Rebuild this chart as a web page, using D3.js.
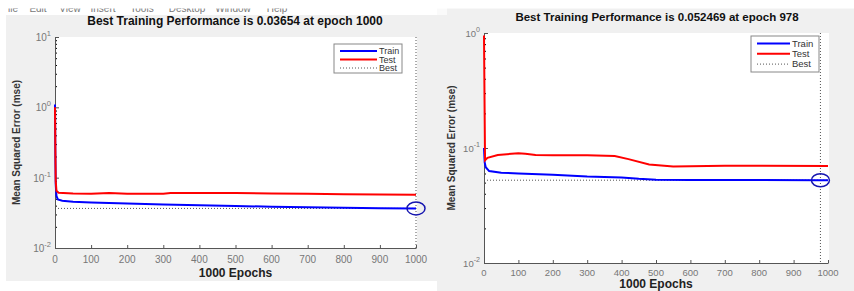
<!DOCTYPE html>
<html>
<head>
<meta charset="utf-8">
<script src="https://cdn.jsdelivr.net/npm/d3@7"></script>
<style>
  body { margin: 0; background: #ffffff; }
  svg { display: block; font-family: "Liberation Sans", Arial, sans-serif; }
</style>
</head>
<body>
<svg id="chart" width="854" height="291"></svg>
<script>
/* two MATLAB nntool performance plots side by side */

// ---- data ----
var epochTicks = [0, 100, 200, 300, 400, 500, 600, 700, 800, 900, 1000];
var menuItems = ["ile", "Edit", "View", "Insert", "Tools", "Desktop", "Window", "Help"];

// left plot
var leftTitle = "Best Training Performance is 0.03654 at epoch 1000";
var leftDecades = [-2, -1, 0, 1];
var leftTrainEpoch = [0, 1, 2, 4, 8, 20, 50, 100, 200, 300, 400, 500, 600, 700, 800, 900, 1000];
var leftTrainMse   = [1.1, 0.2, 0.08, 0.055, 0.049, 0.047, 0.0455, 0.0445, 0.043, 0.0415, 0.0405, 0.0395, 0.0387, 0.038, 0.0373, 0.0368, 0.03654];
var leftTestEpoch  = [0, 1, 2, 4, 10, 50, 100, 150, 200, 300, 320, 500, 600, 700, 800, 900, 1000];
var leftTestMse    = [1.0, 0.25, 0.09, 0.065, 0.061, 0.0595, 0.059, 0.0605, 0.059, 0.059, 0.0605, 0.0605, 0.0595, 0.059, 0.058, 0.0575, 0.0572];
var leftBestEpoch = 1000;
var leftBestMse = 0.03654;

// right plot
var rightTitle = "Best Training Performance is 0.052469 at epoch 978";
var rightDecades = [-2, -1, 0];
var rightTrainEpoch = [0, 2, 5, 15, 50, 100, 200, 300, 400, 450, 500, 600, 800, 978, 1000];
var rightTrainMse   = [0.1, 0.075, 0.068, 0.063, 0.061, 0.06, 0.0585, 0.0565, 0.0555, 0.054, 0.053, 0.0528, 0.0526, 0.052469, 0.05245];
var rightTestEpoch  = [0, 3, 10, 40, 100, 120, 150, 200, 300, 380, 420, 480, 550, 600, 700, 1000];
var rightTestMse    = [0.95, 0.078, 0.082, 0.087, 0.09, 0.089, 0.087, 0.0865, 0.0865, 0.085, 0.08, 0.072, 0.069, 0.0695, 0.07, 0.0698];
var rightBestEpoch = 978;
var rightBestMse = 0.052469;

var legendNames = ["Train", "Test", "Best"];

// ---- drawing ----
var svg = d3.select("#chart");
var figBg = "#f0f0f0";

// window backgrounds
svg.append("rect").attr("x", 6).attr("y", 15).attr("width", 431).attr("height", 266).attr("fill", figBg);
svg.append("rect").attr("x", 437).attr("y", 7).attr("width", 417).attr("height", 284).attr("fill", figBg);
svg.append("rect").attr("x", 437).attr("y", 7).attr("width", 10).attr("height", 8).attr("fill", "#fafafa");

// cut-off menu bar of the left window
var menuX = [13, 38, 70, 103, 142, 187, 233, 277];
svg.selectAll("text.menu")
  .data(menuItems)
  .enter()
  .append("text")
  .attr("class", "menu")
  .attr("x", function(d, i) { return menuX[i]; })
  .attr("y", 12)
  .attr("text-anchor", "middle")
  .attr("font-size", 10)
  .attr("fill", "#777")
  .text(function(d) { return d; });
svg.append("rect").attr("x", 0).attr("y", 0).attr("width", 854).attr("height", 8.5).attr("fill", "#ffffff");

function drawPanel(p) {
  var x = d3.scaleLinear().domain([0, 1000]).range([p.x0, p.x1]);
  var y = d3.scaleLog()
            .domain([Math.pow(10, d3.min(p.decades)), Math.pow(10, d3.max(p.decades))])
            .range([p.y1, p.y0]);

  var g = svg.append("g");

  // white axes area
  g.append("rect")
    .attr("x", p.x0).attr("y", p.y0)
    .attr("width", p.x1 - p.x0 + 1).attr("height", p.y1 - p.y0)
    .attr("fill", "#ffffff");

  // minor log ticks
  var minors = [];
  p.decades.slice(0, -1).forEach(function(e) {
    for (var k = 2; k < 10; k++) minors.push(k * Math.pow(10, e));
  });
  var majors = p.decades.map(function(e) { return Math.pow(10, e); });

  g.append("g")
    .attr("transform", "translate(" + p.x0 + ",0)")
    .call(d3.axisLeft(y).tickValues(minors).tickSize(-2).tickFormat(""))
    .call(function(a) { a.select(".domain").remove(); });

  var yAxis = g.append("g")
    .attr("transform", "translate(" + p.x0 + ",0)")
    .call(d3.axisLeft(y).tickValues(majors).tickSize(-4).tickSizeOuter(0).tickFormat(""));

  var xAxis = g.append("g")
    .attr("transform", "translate(0," + p.y1 + ")")
    .call(d3.axisBottom(x).tickValues(epochTicks).tickSize(-3).tickSizeOuter(0).tickFormat(""));

  [yAxis, xAxis].forEach(function(a) {
    a.selectAll("line").attr("stroke", "#555");
    a.select(".domain").attr("stroke", "#555");
  });

  // y tick labels 10^n
  var yl = g.selectAll("text.ylab")
    .data(p.decades)
    .enter()
    .append("text")
    .attr("class", "ylab")
    .attr("x", p.x0 - 4)
    .attr("y", function(d) { return y(Math.pow(10, d)) + 4; })
    .attr("text-anchor", "end")
    .attr("font-size", p.tickFont)
    .attr("fill", "#777");
  yl.append("tspan").text("10");
  yl.append("tspan")
    .attr("dy", -5)
    .attr("font-size", p.tickFont * 0.75)
    .text(function(d) { return d; });

  // x tick labels
  g.selectAll("text.xlab")
    .data(epochTicks)
    .enter()
    .append("text")
    .attr("class", "xlab")
    .attr("x", function(d) { return x(d); })
    .attr("y", p.y1 + p.tickDy)
    .attr("text-anchor", "middle")
    .attr("font-size", p.tickFont)
    .attr("fill", "#777")
    .text(function(d) { return d; });

  // best lines
  g.append("line")
    .attr("x1", p.x0).attr("x2", p.x1)
    .attr("y1", y(p.bestMse)).attr("y2", y(p.bestMse))
    .attr("stroke", "#555").attr("stroke-width", 1).attr("stroke-dasharray", "1,2");
  g.append("line")
    .attr("x1", x(p.bestEpoch)).attr("x2", x(p.bestEpoch))
    .attr("y1", p.y0).attr("y2", p.y1)
    .attr("stroke", "#555").attr("stroke-width", 1).attr("stroke-dasharray", "1,2");

  // performance curves
  var line = d3.line()
    .x(function(d) { return x(d[0]); })
    .y(function(d) { return y(d[1]); });

  g.append("path")
    .datum(d3.zip(p.trainEpoch, p.trainMse))
    .attr("d", line)
    .attr("fill", "none")
    .attr("stroke", "#0000ff")
    .attr("stroke-width", 2);
  g.append("path")
    .datum(d3.zip(p.testEpoch, p.testMse))
    .attr("d", line)
    .attr("fill", "none")
    .attr("stroke", "#ff0000")
    .attr("stroke-width", 2);

  // best marker
  g.append("ellipse")
    .attr("cx", x(p.bestEpoch)).attr("cy", y(p.bestMse))
    .attr("rx", 9).attr("ry", 6.5)
    .attr("fill", "none")
    .attr("stroke", "#1515b0")
    .attr("stroke-width", 1.5);

  // legend
  var L = p.legend;
  g.append("rect")
    .attr("x", L.x).attr("y", L.y)
    .attr("width", L.w).attr("height", L.h)
    .attr("fill", "#ffffff").attr("stroke", "#888").attr("stroke-width", 1);
  var legColors = ["#0000ff", "#ff0000", "#555"];
  var rows = g.selectAll("g.leg")
    .data(legendNames)
    .enter()
    .append("g")
    .attr("class", "leg")
    .attr("transform", function(d, i) { return "translate(0," + (L.y + L.first + i * L.step) + ")"; });
  rows.append("line")
    .attr("x1", L.x + 6).attr("x2", L.x + L.lineW)
    .attr("stroke", function(d, i) { return legColors[i]; })
    .attr("stroke-width", function(d, i) { return i < 2 ? 2 : 1; })
    .attr("stroke-dasharray", function(d, i) { return i < 2 ? null : "1,2"; });
  rows.append("text")
    .attr("x", L.x + L.lineW + 2)
    .attr("y", 3)
    .attr("font-size", L.font)
    .attr("fill", "#333")
    .text(function(d) { return d; });

  // title and labels
  g.append("text")
    .attr("x", p.titleX).attr("y", p.titleY)
    .attr("text-anchor", "middle")
    .attr("font-size", p.titleFont)
    .attr("font-weight", "bold")
    .attr("fill", "#111")
    .text(p.title);

  g.append("text")
    .attr("transform", "translate(" + p.yLabelX + "," + ((p.y0 + p.y1) / 2) + ") rotate(-90)")
    .attr("text-anchor", "middle")
    .attr("font-size", 10)
    .attr("font-weight", "bold")
    .attr("fill", "#333")
    .text("Mean Squared Error  (mse)");

  g.append("text")
    .attr("x", (p.x0 + p.x1) / 2).attr("y", p.xLabelY)
    .attr("text-anchor", "middle")
    .attr("font-size", 12)
    .attr("font-weight", "bold")
    .attr("fill", "#222")
    .text("1000 Epochs");
}

drawPanel({
  x0: 55, x1: 416, y0: 37, y1: 248,
  decades: leftDecades,
  trainEpoch: leftTrainEpoch, trainMse: leftTrainMse,
  testEpoch: leftTestEpoch, testMse: leftTestMse,
  bestEpoch: leftBestEpoch, bestMse: leftBestMse,
  title: leftTitle, titleX: 235, titleY: 25, titleFont: 12,
  tickFont: 10, tickDy: 15, xLabelY: 277, yLabelX: 20,
  legend: { x: 334, y: 44, w: 68, h: 29, first: 7, step: 8.5, lineW: 43, font: 9 }
});

drawPanel({
  x0: 484, x1: 828, y0: 33, y1: 263,
  decades: rightDecades,
  trainEpoch: rightTrainEpoch, trainMse: rightTrainMse,
  testEpoch: rightTestEpoch, testMse: rightTestMse,
  bestEpoch: rightBestEpoch, bestMse: rightBestMse,
  title: rightTitle, titleX: 657, titleY: 21, titleFont: 11.5,
  tickFont: 9.5, tickDy: 13, xLabelY: 287.5, yLabelX: 455,
  legend: { x: 751, y: 36, w: 68, h: 36, first: 7.5, step: 10.3, lineW: 39, font: 9.5 }
});
</script>
</body>
</html>
